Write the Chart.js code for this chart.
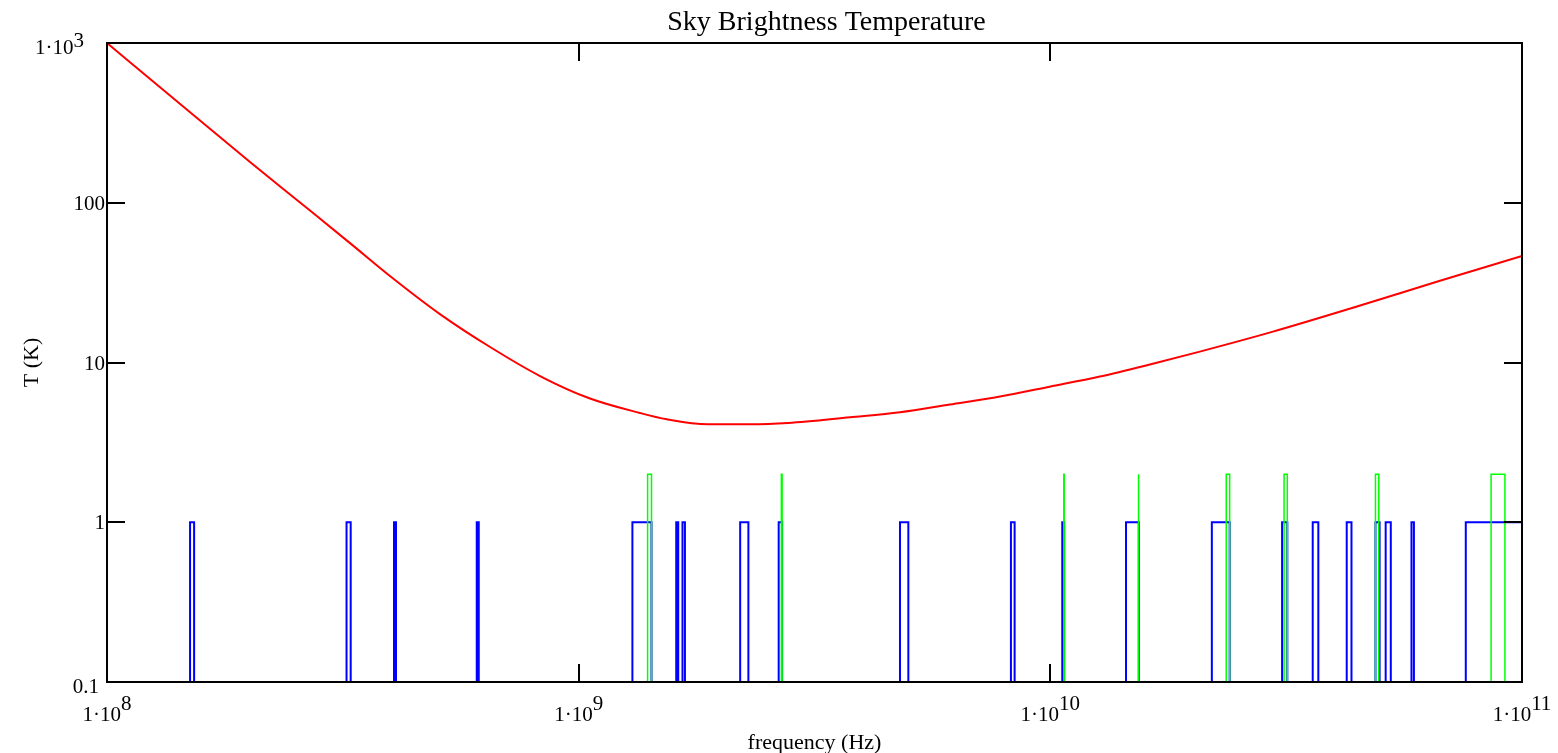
<!DOCTYPE html>
<html>
<head>
<meta charset="utf-8">
<script src="https://cdn.jsdelivr.net/npm/chart.js@4"></script>
<style>
html,body{margin:0;padding:0;background:#fff;}
#wrap{width:1558px;height:753px;}
</style>
</head>
<body>
<div id="wrap"><canvas id="c" width="1558" height="753"></canvas></div>
<script>
// ---- data ----
const titleText = "Sky Brightness Temperature";
const xAxisLabel = "frequency (Hz)";
const yAxisLabel = "T (K)";

// x tick labels: mantissa·10^exp
const xTickValues = [1e8, 1e9, 1e10, 1e11];
const xTickExp = ["8", "9", "10", "11"];
const yTickValues = [0.1, 1, 10, 100, 1000];
const yTickLabels = ["0.1", "1", "10", "100", "1·10"];
const yTickSup = ["", "", "", "", "3"];

// red sky brightness curve
const redFreq = [1e8, 1.34e8, 2.01e8, 2.57e8, 3.28e8, 3.98e8, 5.08e8, 6.49e8, 8.28e8,
  1.057e9, 1.349e9, 1.538e9, 1.879e9, 2.306e9, 2.78e9, 3.76e9, 4.80e9, 6.12e9, 7.82e9,
  9.97e9, 1.274e10, 1.626e10, 2.075e10, 2.965e10, 4.467e10, 6.70e10, 1e11];
const redTemp = [1000, 486, 180, 100, 55.7, 34.8, 20.1, 12.5, 8.23,
  5.95, 4.83, 4.41, 4.10, 4.10, 4.18, 4.54, 4.88, 5.46, 6.13,
  7.06, 8.17, 9.72, 11.7, 15.6, 22.4, 32.5, 46.4];

// blue bands (level 1)
const blueStart = [1.50e8, 3.22e8, 4.06e8, 6.08e8, 1.30e9, 1.61e9, 1.66e9, 2.20e9, 2.655e9,
  4.80e9, 8.25e9, 1.06e10, 1.447e10, 2.20e10, 3.10e10, 3.60e10, 4.25e10, 4.89e10, 5.14e10, 5.83e10, 7.60e10];
const blueEnd = [1.53e8, 3.286e8, 4.10e8, 6.14e8, 1.427e9, 1.626e9, 1.68e9, 2.29e9, 2.70e9,
  5.00e9, 8.40e9, 1.07e10, 1.54e10, 2.40e10, 3.18e10, 3.70e10, 4.35e10, 4.99e10, 5.27e10, 5.90e10, 1e11];
const blueLevel = 1;

// green bands (level 2)
const greenStart = [1.40e9, 2.69e9, 1.068e10, 1.535e10, 2.36e10, 3.13e10, 4.89e10, 8.60e10];
const greenEnd = [1.427e9, 2.70e9, 1.07e10, 1.54e10, 2.40e10, 3.18e10, 4.97e10, 9.20e10];
const greenLevel = 2;

const baseLevel = 0.1;

function pulses(starts, ends, level) {
  const pts = [];
  for (let i = 0; i < starts.length; i++) {
    pts.push({x: starts[i], y: baseLevel});
    pts.push({x: starts[i], y: level});
    pts.push({x: ends[i], y: level});
    pts.push({x: ends[i], y: baseLevel});
    pts.push({x: ends[i], y: null});
  }
  return pts;
}

const SERIF = '"Liberation Serif", "DejaVu Serif", serif';

const framePlugin = {
  id: 'frame',
  afterDraw(chart) {
    const {ctx, chartArea: a, scales} = chart;
    const x = scales.x, y = scales.y;
    ctx.save();
    ctx.strokeStyle = '#000';
    ctx.lineWidth = 2;
    ctx.strokeRect(a.left, a.top, a.right - a.left, a.bottom - a.top);
    const TL = 18;
    ctx.beginPath();
    xTickValues.forEach(v => {
      const px = Math.round(x.getPixelForValue(v));
      ctx.moveTo(px, a.bottom); ctx.lineTo(px, a.bottom - TL);
      ctx.moveTo(px, a.top); ctx.lineTo(px, a.top + TL);
    });
    yTickValues.forEach(v => {
      const py = Math.round(y.getPixelForValue(v));
      ctx.moveTo(a.left, py); ctx.lineTo(a.left + TL, py);
      ctx.moveTo(a.right, py); ctx.lineTo(a.right - TL, py);
    });
    ctx.stroke();

    ctx.fillStyle = '#000';
    ctx.font = '21px ' + SERIF;
    ctx.textBaseline = 'alphabetic';
    // x tick labels
    xTickValues.forEach((v, i) => {
      const px = x.getPixelForValue(v);
      const main = "1·10", sup = xTickExp[i];
      const w1 = ctx.measureText(main).width, w2 = ctx.measureText(sup).width;
      const left = px - (w1 + w2) / 2;
      ctx.textAlign = 'left';
      ctx.fillText(main, left, a.bottom + 39);
      ctx.fillText(sup, left + w1, a.bottom + 28);
    });
    // y tick labels
    const n = yTickValues.length;
    yTickValues.forEach((v, i) => {
      const py = y.getPixelForValue(v);
      const main = yTickLabels[i], sup = yTickSup[i];
      ctx.textAlign = 'right';
      if (i === 0) {
        ctx.fillText(main, a.left - 8, py + 11);
      } else if (i === n - 1) {
        const w2 = ctx.measureText(sup).width;
        const right = a.left - 23;
        ctx.fillText(main, right - w2, py + 11);
        ctx.textAlign = 'left';
        ctx.fillText(sup, right - w2, py + 4);
      } else {
        ctx.fillText(main, a.left - 2, py + 7);
      }
    });
    // title and axis labels
    ctx.textAlign = 'center';
    ctx.font = '28px ' + SERIF;
    ctx.fillText(titleText, (a.left + a.right) / 2 + 12, 30);
    ctx.font = '22px ' + SERIF;
    ctx.fillText(xAxisLabel, (a.left + a.right) / 2, 749);
    ctx.save();
    ctx.translate(38, (a.top + a.bottom) / 2);
    ctx.rotate(-Math.PI / 2);
    ctx.fillText(yAxisLabel, 0, 0);
    ctx.restore();
    ctx.restore();
  }
};

new Chart(document.getElementById('c'), {
  type: 'line',
  data: {
    datasets: [
      {
        label: 'sky temperature',
        data: redFreq.map((f, i) => ({x: f, y: redTemp[i]})),
        borderColor: '#ff0000', borderWidth: 2, pointRadius: 0,
        cubicInterpolationMode: 'monotone', order: 0
      },
      {
        label: 'green bands',
        data: pulses(greenStart, greenEnd, greenLevel),
        borderColor: '#00ff00', borderWidth: 1.5, pointRadius: 0,
        spanGaps: false, tension: 0, order: 1
      },
      {
        label: 'blue bands',
        data: pulses(blueStart, blueEnd, blueLevel),
        borderColor: '#0000ff', borderWidth: 2, pointRadius: 0,
        spanGaps: false, tension: 0, order: 2
      }
    ]
  },
  options: {
    responsive: false,
    animation: false,
    devicePixelRatio: 1,
    layout: {padding: {left: 107, top: 43, right: 36, bottom: 71}},
    plugins: {legend: {display: false}, tooltip: {enabled: false}, title: {display: false}},
    scales: {
      x: {type: 'logarithmic', min: 1e8, max: 1e11, display: false},
      y: {type: 'logarithmic', min: 0.1, max: 1000, display: false}
    }
  },
  plugins: [framePlugin]
});
</script>
</body>
</html>
